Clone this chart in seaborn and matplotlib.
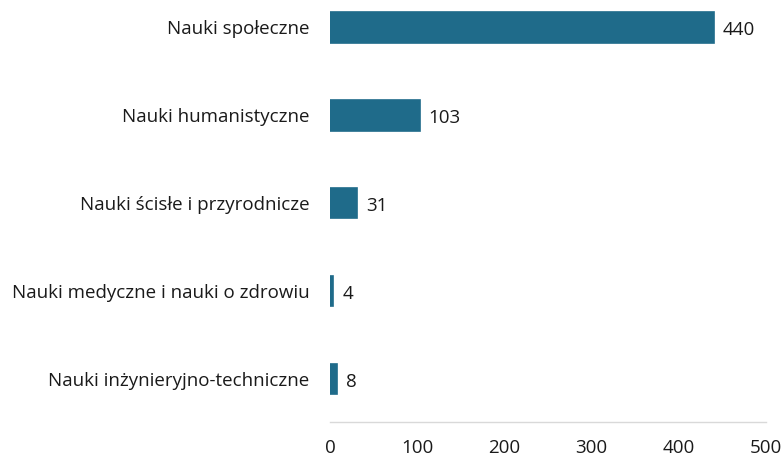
import pandas as pd
import matplotlib.pyplot as plt
import seaborn as sns

# Data
categories = [
    'Nauki społeczne',
    'Nauki humanistyczne',
    'Nauki ścisłe i przyrodnicze',
    'Nauki medyczne i nauki o zdrowiu',
    'Nauki inżynieryjno-techniczne',
]
values = [440, 103, 31, 4, 8]
x_ticks = [0, 100, 200, 300, 400, 500]

df = pd.DataFrame({'category': categories, 'value': values})

sns.set_style('white')
plt.rcParams['font.family'] = ['Open Sans', 'DejaVu Sans']

fig = plt.figure(figsize=(7.82, 4.57), dpi=100)
ax = fig.add_axes([330 / 782, 35 / 457, 436 / 782, 422 / 457])

sns.barplot(data=df, x='value', y='category', orient='h', color='#1f6b8a',
            saturation=1, width=0.35, edgecolor='#1f6b8a', linewidth=1.2, ax=ax)

# Value labels next to bars
for i, v in enumerate(values):
    ax.text(v + 10, i + 0.03, str(v), va='center', ha='left', fontsize=13.5, color='#1a1a1a')

ax.set_xlim(0, 500)
ax.set_ylim(4.49, -0.31)
ax.set_xticks(x_ticks)
ax.set_xticklabels([str(t) for t in x_ticks])
ax.set_xlabel('')
ax.set_ylabel('')
ax.tick_params(axis='both', length=0, labelsize=13.5, colors='#1a1a1a')
ax.tick_params(axis='x', pad=12)
ax.tick_params(axis='y', pad=15)

for side in ['top', 'right', 'left']:
    ax.spines[side].set_visible(False)
ax.spines['bottom'].set_color('#d9d9d9')
ax.spines['bottom'].set_linewidth(1)

plt.savefig('out.png', dpi=100)
plt.close()
